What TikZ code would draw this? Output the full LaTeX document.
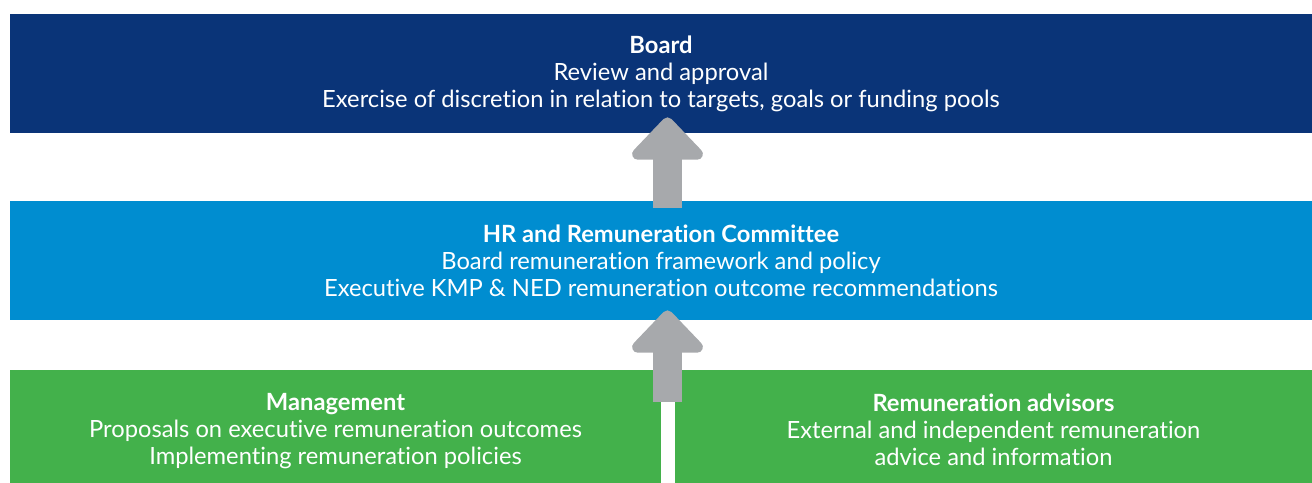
\documentclass[tikz,border=0pt]{standalone}
\usepackage{fontspec}
\setmainfont{Lato}[RawFeature=-liga]
\usetikzlibrary{calc}
\usetikzlibrary{positioning,arrows.meta}
\definecolor{boardblue}{HTML}{0A3478}
\definecolor{hrblue}{HTML}{008DD0}
\definecolor{mgmtgreen}{HTML}{43B14B}
\definecolor{arrowgrey}{HTML}{A7A9AC}

\begin{document}
\begin{tikzpicture}[
	box/.style={inner sep=0pt, text=white, align=center, font=\fontsize{13.5}{15.4}\selectfont},
	uparrow/.style={draw=arrowgrey, line width=0.58cm,
		-{Triangle[width=1.66cm,length=0.9cm,round]}}]
	\useasboundingbox (0,0) rectangle (26.24,9.64);
	
	\node[box, fill=boardblue, minimum width=26.04cm, minimum height=2.38cm] (board) at (13.22,8.17)
	{\textbf{Board}\\Review and approval\\Exercise of discretion in relation to targets, goals or funding pools};
	\node[box, fill=hrblue, minimum width=26.04cm, minimum height=2.38cm] (hr) at (13.22,4.43)
	{\textbf{HR and Remuneration Committee}\\Board remuneration framework and policy\\Executive KMP \& NED remuneration outcome recommendations};
	\node[box, fill=mgmtgreen, minimum width=13.02cm, minimum height=2.46cm] (mgmt) at (6.71,1.01)
	{\textbf{Management}\\Proposals on executive remuneration outcomes\\Implementing remuneration policies};
	\node[box, fill=mgmtgreen, minimum width=12.74cm, minimum height=2.46cm] (adv) at (19.87,1.01)
	{\textbf{Remuneration advisors}\\External and independent remuneration\\advice and information\vphantom{p}};
	
	\coordinate (gap) at (13.35,0);
	\draw[uparrow] ($(hr.north -| gap)+(0,-0.14)$) -- ($(board.south -| gap)+(0,0.32)$);
	\draw[uparrow] ($(mgmt.north -| gap)+(0,-0.64)$) -- ($(hr.south -| gap)+(0,0.2)$);
\end{tikzpicture}
\end{document}
